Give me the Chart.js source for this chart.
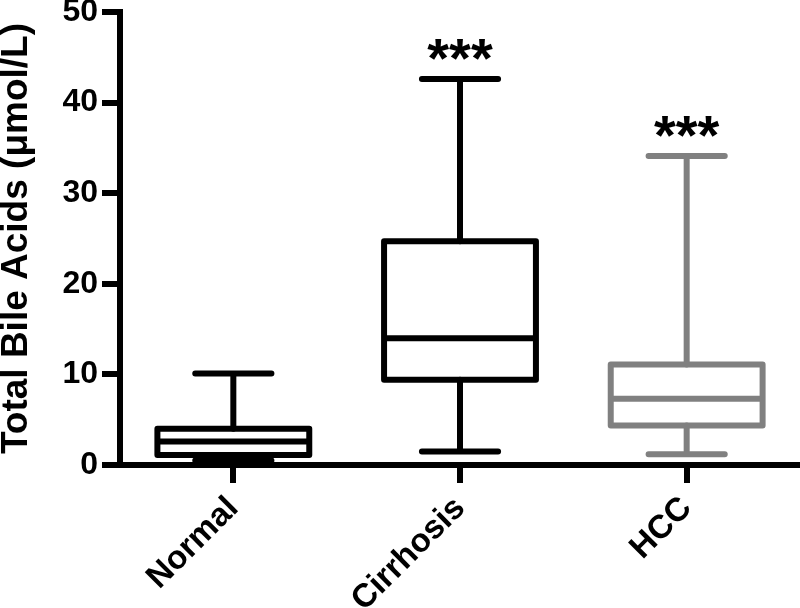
<!DOCTYPE html>
<html>
<head>
<meta charset="utf-8">
<script src="https://cdn.jsdelivr.net/npm/chart.js@4.4.1/dist/chart.umd.min.js"></script>
<style>
  html, body { margin: 0; padding: 0; background: #fff; }
  #wrap { width: 800px; height: 608px; }
</style>
</head>
<body>
<div id="wrap"><canvas id="grafica"></canvas></div>
<script>
// valores (umol/L)
const grupos = ['Normal', 'Cirrhosis', 'HCC'];
const minimos = [0.5, 1.5, 1.2];
const q1 = [1.1, 9.4, 4.35];
const medianas = [2.6, 14.0, 7.3];
const q3 = [4.0, 24.7, 11.1];
const maximos = [10.1, 42.6, 34.1];
const marcas = ['', '***', '***'];
const colores = ['#000000', '#000000', '#808080'];
const yTicks = [0, 10, 20, 30, 40, 50];

const fuente = '"Liberation Sans", Arial, Helvetica, sans-serif';

// dibuja cajas y bigotes usando las escalas del grafico
const cajas = {
  id: 'cajas',
  afterDatasetsDraw(chart) {
    const { ctx, scales: { x, y } } = chart;
    const paso = x.getPixelForValue(1) - x.getPixelForValue(0);
    const mitad = paso * 0.335;
    const tapa = paso * 0.168;
    ctx.save();
    ctx.lineWidth = 6;
    ctx.lineCap = 'round';
    ctx.lineJoin = 'round';
    grupos.forEach((g, i) => {
      const cx = x.getPixelForValue(i);
      const yMin = y.getPixelForValue(minimos[i]);
      const yQ1 = y.getPixelForValue(q1[i]);
      const yMed = y.getPixelForValue(medianas[i]);
      const yQ3 = y.getPixelForValue(q3[i]);
      const yMax = y.getPixelForValue(maximos[i]);
      ctx.strokeStyle = colores[i];
      ctx.beginPath();
      // bigotes
      ctx.moveTo(cx, yQ3); ctx.lineTo(cx, yMax);
      ctx.moveTo(cx - tapa, yMax); ctx.lineTo(cx + tapa, yMax);
      ctx.moveTo(cx, yQ1); ctx.lineTo(cx, yMin);
      ctx.moveTo(cx - tapa, yMin); ctx.lineTo(cx + tapa, yMin);
      ctx.stroke();
      // caja
      ctx.beginPath();
      ctx.rect(cx - mitad, yQ3, mitad * 2, yQ1 - yQ3);
      ctx.stroke();
      // mediana
      ctx.beginPath();
      ctx.lineCap = 'butt';
      ctx.moveTo(cx - mitad, yMed); ctx.lineTo(cx + mitad, yMed);
      ctx.stroke();
      ctx.lineCap = 'round';
      // significancia
      if (marcas[i]) {
        ctx.fillStyle = '#000';
        ctx.font = 'bold 56px ' + fuente;
        ctx.textAlign = 'center';
        ctx.textBaseline = 'alphabetic';
        const m = ctx.measureText(marcas[i]);
        const baseY = yMax - 19 - m.actualBoundingBoxDescent;
        ctx.fillText(marcas[i], cx, baseY);
      }
    });
    ctx.restore();
  }
};

new Chart(document.getElementById('grafica'), {
  type: 'bar',
  data: {
    labels: grupos,
    datasets: [{
      label: 'Total Bile Acids',
      data: grupos.map((g, i) => [q1[i], q3[i]]),
      backgroundColor: 'rgba(0,0,0,0)',
      borderWidth: 0
    }]
  },
  options: {
    responsive: true,
    maintainAspectRatio: false,
    animation: false,
    layout: { padding: { top: 12, left: 0, right: 0, bottom: 0 } },
    plugins: {
      legend: { display: false },
      tooltip: { enabled: false }
    },
    scales: {
      x: {
        z: 1,
        offset: true,
        grid: {
          offset: false,
          drawOnChartArea: false,
          drawTicks: true,
          tickLength: 18,
          lineWidth: 6,
          color: '#000'
        },
        border: { display: true, width: 6, color: '#000' },
        ticks: {
          color: '#000',
          font: { family: fuente, size: 33, weight: 'bold' },
          maxRotation: 45,
          minRotation: 45,
          padding: 6
        },
        afterFit: s => { s.height = 143; s.paddingLeft = 0; s.paddingRight = 0; }
      },
      y: {
        z: 1,
        min: 0,
        max: 50,
        afterBuildTicks: s => { s.ticks = yTicks.map(v => ({ value: v })); },
        grid: {
          drawOnChartArea: false,
          drawTicks: true,
          tickLength: 18,
          lineWidth: 6,
          color: '#000'
        },
        border: { display: true, width: 6, color: '#000' },
        ticks: {
          color: '#000',
          font: { family: fuente, size: 32, weight: 'bold' },
          padding: 4
        },
        title: {
          display: true,
          text: 'Total Bile Acids (μmol/L)',
          color: '#000',
          font: { family: fuente, size: 37, weight: 'bold', lineHeight: 0.9 },
          padding: { top: 0, bottom: 0 }
        },
        afterFit: s => { s.width = 120; s.paddingTop = 0; s.paddingBottom = 0; }
      }
    }
  },
  plugins: [cajas]
});
</script>
</body>
</html>
